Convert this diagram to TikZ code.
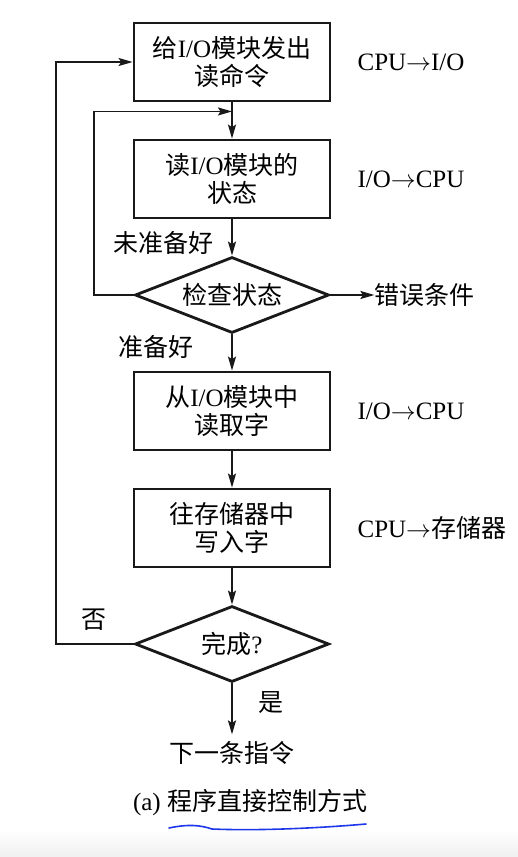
\documentclass[tikz,border=0pt]{standalone}
\usepackage{fontspec}
\setmainfont{Liberation Serif}
\newfontfamily\cjk{Noto Sans CJK SC}
\usetikzlibrary{shapes.geometric, arrows.meta, positioning, calc}
\definecolor{flowline}{RGB}{25,25,25}
\definecolor{penblue}{RGB}{30,55,235}
\definecolor{shadegray}{RGB}{240,240,240}
\newcommand{\zh}[1]{{\cjk #1}}
\tikzset{
  %% ---- boxes ----
  stepbox/.style  = {rectangle, draw=flowline, line width=2.8pt,
                     minimum width=196pt, minimum height=78pt,
                     align=center, inner sep=0pt},
  decision/.style = {diamond, draw=flowline, line width=2.8pt,
                     minimum width=194pt, minimum height=76pt,
                     aspect=2.5, inner sep=0pt},
  lbl/.style      = {inner sep=0pt},
  %% ---- arrows ----
  arr/.style      = {-{Stealth[length=14pt, width=8pt, inset=2.5pt]},
                     line width=1.8pt, color=flowline},
}

\begin{document}
\begin{tikzpicture}[
  x=1pt, y=-1pt,
  node distance = 36.2pt,
  every node/.style = {font=\fontsize{25}{28}\selectfont}
]
\fill[white] (0,0) rectangle (518,857);
\shade[top color=white, bottom color=shadegray] (0,830) rectangle (518,857);
\useasboundingbox (0,0) rectangle (518,857);

%% ---- main column ----
\node[stepbox] (send) at (232,62) {\zh{给}I/O\zh{模块发出}\\\zh{读命令}};
\node[stepbox, below=of send] (status) {\zh{读}I/O\zh{模块的}\\\zh{状态}};
\node[decision, below=of status] (check) {\zh{检查状态}};
\node[stepbox, below=of check] (fetch) {\zh{从}I/O\zh{模块中}\\\zh{读取字}};
\node[stepbox, below=of fetch] (store) {\zh{往存储器中}\\\zh{写入字}};
\node[decision, below=of store] (done) {\zh{完成}?};
\node[lbl, below=58pt of done] (next) {\zh{下一条指令}};

%% ---- side notes ----
\node[lbl, right=26pt of send.east, anchor=west] (n1) {CPU$\rightarrow$I/O};
\node[lbl, right=26pt of status.east, anchor=west] (n2) {I/O$\rightarrow$CPU};
\node[lbl, right=26pt of fetch.east, anchor=west] (n3) {I/O$\rightarrow$CPU};
\node[lbl, right=26pt of store.east, anchor=west] (n4) {CPU$\rightarrow$\zh{存储器}};
\node[lbl, right=44pt of check.east, anchor=west] (err) {\zh{错误条件}};

%% ---- branch labels ----
\node[lbl, above left=1pt and 18pt of check.north] (notready) {\zh{未准备好}};
\node[lbl, below left=1pt and 38pt of check.south] (ready) {\zh{准备好}};
\node[lbl, above left=13pt and 27pt of done.west] (no) {\zh{否}};
\node[lbl, below right=8pt and 26pt of done.south] (yes) {\zh{是}};

\node[lbl] (caption) at (250,803) {(a) \zh{程序直接控制方式}};

%% ---- connectors ----
\coordinate (join) at ($(send.south)!0.25!(status.north)$);
\draw[arr] (send) -- (status);
\draw[arr] (status) -- (check);
\draw[arr] (check) -- (fetch);
\draw[arr] (fetch) -- (store);
\draw[arr] (store) -- (done);
\draw[arr, shorten >=7pt] (done) -- (next);
\draw[arr] (check.east) -- (err.west);
\draw[arr] (check.west) -- ++(-40,0) |- (join);
\draw[arr] (done.west) -- ++(-78,0) |- (send.west);

%% pen mark under the caption
\draw[penblue, line width=1.6pt, line cap=round]
  (169,828) .. controls (188,824) and (200,825) .. (212,829)
  .. controls (260,831) and (320,828) .. (366,824);
\end{tikzpicture}
\end{document}
